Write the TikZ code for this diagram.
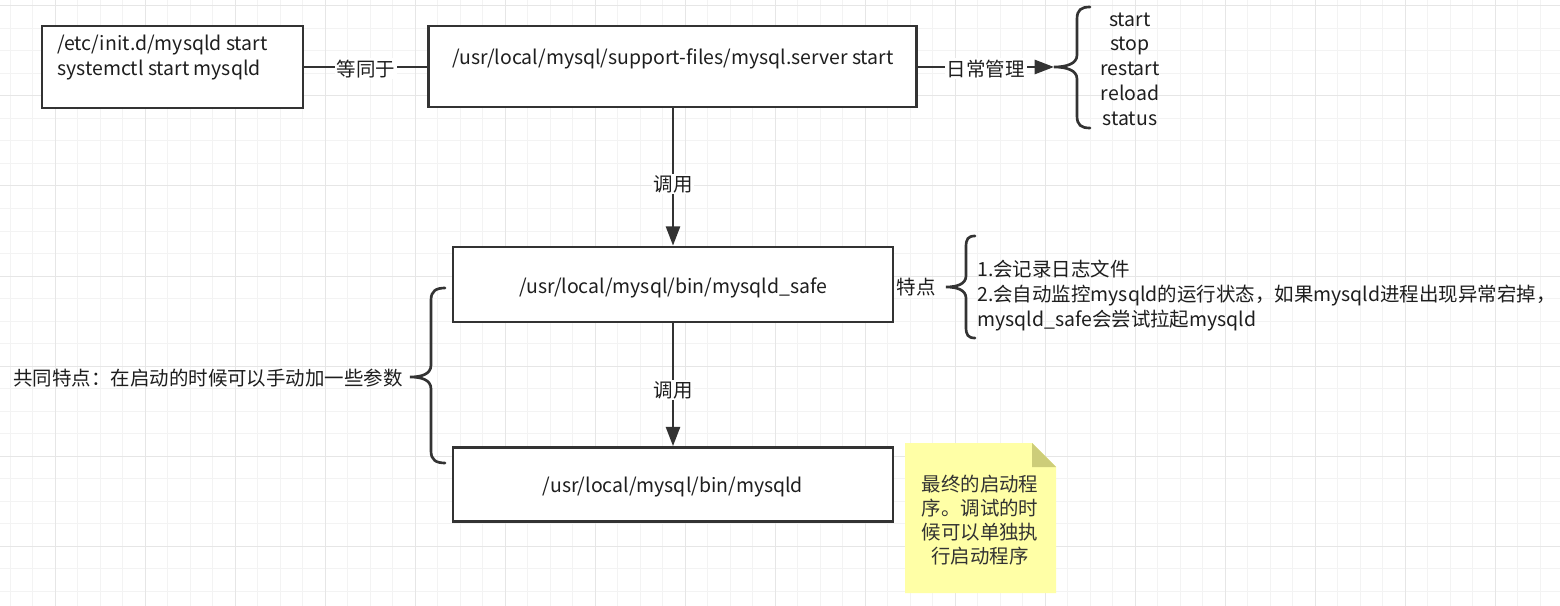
\documentclass[tikz,border=0pt]{standalone}
\usepackage{fontspec}
\setmainfont{Noto Sans CJK SC}
\usetikzlibrary{arrows.meta}
\definecolor{gridminor}{HTML}{F3F3F3}
\definecolor{gridmajor}{HTML}{E6E6E6}
\definecolor{ink}{HTML}{333333}
\definecolor{txt}{HTML}{1E1E1E}
\definecolor{notefill}{HTML}{FFFFA6}
\definecolor{notefold}{HTML}{CDCD79}
\begin{document}
\begin{tikzpicture}[x=0.75pt,y=-0.75pt,
  every node/.style={font=\fontsize{14.6}{18.75}\selectfont, text=txt, inner sep=0pt},
  box/.style={draw=ink, line width=2pt, fill=white},
  conn/.style={draw=ink, line width=2pt},
  arr/.style={conn, -{Triangle[length=14.5pt,width=10.5pt]}},
  lbl/.style={fill=white, inner xsep=1.5pt, inner ysep=1pt, yshift=-1.2pt},
  brace/.style={draw=ink, line width=2pt, line cap=round},
  minorline/.style={draw=gridminor, line width=0.75pt},
  majorline/.style={draw=gridmajor, line width=0.75pt}
]
\useasboundingbox (0,0) rectangle (1560,606);
\fill[white] (0,0) rectangle (1560,606);
% grid
\foreach \i in {0,...,69} { \draw[minorline] (10+22.5*\i,0) -- (10+22.5*\i,606); }
\foreach \i in {0,...,26} { \draw[minorline] (0,6+22.5*\i) -- (1560,6+22.5*\i); }
\foreach \i in {0,...,16} { \draw[majorline] (55+90*\i,0) -- (55+90*\i,606); }
\foreach \i in {0,...,6} { \draw[majorline] (0,6+90*\i) -- (1560,6+90*\i); }

% boxes
\node[box, minimum width=195.75pt, minimum height=61.5pt] (A) at (172.5,67) {};
\node[anchor=west, align=left] (Atext) at (57,58) {/etc/init.d/mysqld start\\systemctl start mysqld};
\node[box, minimum width=366pt, minimum height=60.75pt] (B) at (672.5,66.5) {};
\node (Btext) at (673,59) {/usr/local/mysql/support-files/mysql.server start};
\node[box, minimum width=330pt, minimum height=56.25pt] (C) at (673,284.5) {};
\node (Ctext) at (673,287.5) {/usr/local/mysql/bin/mysqld\_safe};
\node[box, minimum width=330pt, minimum height=55.5pt] (D) at (673,484.5) {};
\node (Dtext) at (673,487.5) {/usr/local/mysql/bin/mysqld};

% connectors
\coordinate (brtip) at (1054,67);
\draw[conn] (A.east) -- node[lbl] (l1) {等同于} (A.east -| B.west);
\draw[arr] (B.east |- brtip) -- node[lbl] (l2) {日常管理} (brtip);
\draw[arr] (C.north |- B.south) -- node[lbl, pos=0.54] (l3) {调用} (C.north);
\draw[arr] (C.south) -- node[lbl, pos=0.53] (l4) {调用} (D.north);

% braces
\draw[brace] (1090,7) .. controls (1081,7) and (1077,10) .. (1077,19) -- (1077,55)
  .. controls (1077,64) and (1066,67) .. (1054,67)
  .. controls (1066,67) and (1077,70) .. (1077,79) -- (1077,116)
  .. controls (1077,125) and (1081,128) .. (1090,128);
\draw[brace] (975,236) .. controls (968,236) and (966,239) .. (966,247) -- (966,276)
  .. controls (966,284) and (957,287) .. (946,287)
  .. controls (957,287) and (966,290) .. (966,298) -- (966,327)
  .. controls (966,335) and (968,338) .. (975,338);
\draw[brace] (445,288) .. controls (436,288) and (431,291) .. (431,300) -- (431,365)
  .. controls (431,374) and (422,377) .. (410,377)
  .. controls (422,377) and (431,380) .. (431,389) -- (431,451)
  .. controls (431,460) and (436,463) .. (445,463);

% texts
\node[align=center, font=\fontsize{14.6}{18.6}\selectfont] (ops) at (1130,69) {start\\stop\\restart\\reload\\status};
\node (tedian) at (916,287) {特点};
\node[anchor=west, align=left, font=\fontsize{14.6}{19.1}\selectfont] (feat) at (977,295.5) {1.会记录日志文件\\2.会自动监控mysqld的运行状态，如果mysqld进程出现异常宕掉，\\mysqld\_safe会尝试拉起mysqld};
\node[anchor=east] (common) at (403,378) {共同特点：在启动的时候可以手动加一些参数};

% note
\fill[notefill] (905,443) -- (1032,443) -- (1056,467) -- (1056,593) -- (905,593) -- cycle;
\fill[notefold] (1032,443) -- (1032,467) -- (1056,467) -- cycle;
\node[align=center, text=ink, font=\fontsize{14.6}{18.2}\selectfont] (note) at (980,520) {最终的启动程\\序。调试的时\\候可以单独执\\行启动程序};
\end{tikzpicture}
\end{document}
